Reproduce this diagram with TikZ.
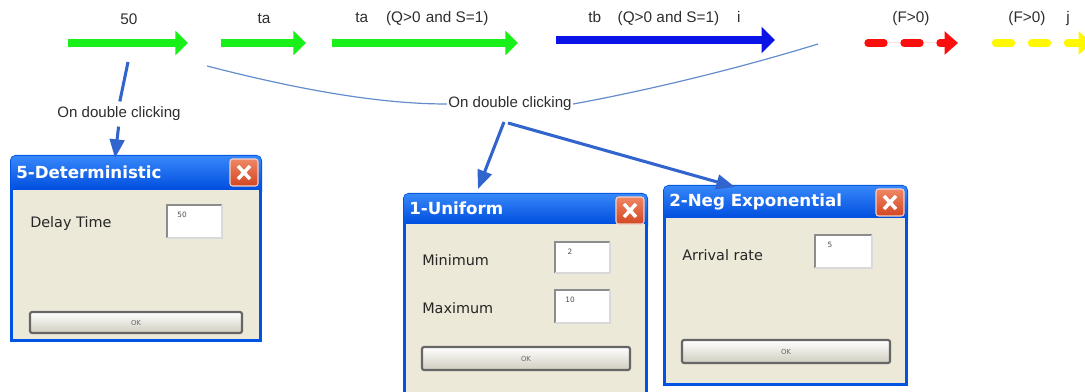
\documentclass[tikz,border=0pt]{standalone}
\usepackage{fontspec}
\setmainfont{Liberation Sans}
\newfontfamily\dlgfont{DejaVu Sans}
\usetikzlibrary{arrows.meta,calc}

\definecolor{xpgreen}{RGB}{25,240,25}
\definecolor{xpblue}{RGB}{10,20,230}
\definecolor{xpred}{RGB}{250,15,15}
\definecolor{xpyellow}{RGB}{255,248,0}
\definecolor{linkblue}{RGB}{50,100,205}
\definecolor{curveblue}{RGB}{100,140,205}
\definecolor{titletop}{RGB}{55,135,250}
\definecolor{titlebot}{RGB}{0,78,222}
\definecolor{frameblue}{RGB}{0,84,227}
\definecolor{dlgbody}{RGB}{236,233,216}
\definecolor{closered}{RGB}{210,70,35}
\definecolor{closetop}{RGB}{240,135,100}
\definecolor{labelgray}{RGB}{45,45,45}

\newcommand\XPDialog[7]{% name, x1, y1, x2, y2, title bottom, title
  \fill[frameblue, rounded corners=4pt] (#2,#3) rectangle (#4,#6+8);
  \fill[frameblue] (#2,#3+12) rectangle (#4,#5);
  \shade[top color=titletop, bottom color=titlebot, rounded corners=3pt] (#2+1,#3+1) rectangle (#4-1,#6);
  \fill[dlgbody] (#2+3,#6) rectangle (#4-3,#5-3);
  \node[titletext, anchor=west] (#1title) at (#2+6,{(#3+#6)/2}) {#7};
  \shade[top color=closetop, bottom color=closered, draw=white!75!closered, line width=0.8pt, rounded corners=2pt]
    (#4-32,#3+4) rectangle (#4-4,#3+31);
  \draw[white, line width=2.6pt] (#4-24,#3+11) -- (#4-12,#3+24) (#4-24,#3+24) -- (#4-12,#3+11);
}
\newcommand\XPBox[6]{% name, x1, y1, x2, y2, value
  \fill[white] (#2,#3) rectangle (#4,#5);
  \draw[black!45, line width=1.4pt] (#2,#5) -- (#2,#3) -- (#4,#3);
  \draw[black!15, line width=0.8pt] (#4,#3) -- (#4,#5) -- (#2,#5);
  \node[valtext] (#1) at (#2+15,#3+10) {#6};
}
\newcommand\XPButton[5]{% name, x1, y1, x2, y2
  \shade[top color=white, bottom color=black!12!dlgbody, draw=black!60, line width=1.6pt, rounded corners=1.5pt]
    (#2,#3) rectangle (#4,#5);
  \node[oktext] (#1) at ({(#2+#4)/2},{(#3+#5)/2}) {OK};
}

\begin{document}
\begin{tikzpicture}[x=0.75pt,y=-0.75pt,
  toplabel/.style={font=\fontsize{11.5}{13}\selectfont, text=labelgray, inner sep=0pt},
  clicklabel/.style={font=\fontsize{11.3}{13}\selectfont, text=labelgray, inner sep=1pt},
  titletext/.style={font=\dlgfont\bfseries\fontsize{12.5}{14}\selectfont, text=white, inner sep=0pt},
  bodytext/.style={font=\dlgfont\fontsize{10.8}{13}\selectfont, text=black!85, inner sep=0pt, anchor=west},
  valtext/.style={font=\dlgfont\fontsize{5.5}{6}\selectfont, text=black!70, inner sep=0pt},
  oktext/.style={font=\dlgfont\fontsize{5.2}{6}\selectfont, text=black!60, inner sep=0pt},
  greenarrow/.style={draw=xpgreen, line width=5.3pt, -{Triangle[length=9.5pt,width=18pt]}},
  bluearrow/.style={draw=xpblue, line width=6pt, -{Triangle[length=10pt,width=19pt]}},
  dasharrow/.style={line width=5.5pt, line cap=round, dash pattern=on 12pt off 15pt, -{Triangle[length=10pt,width=17pt]}},
  linkline/.style={draw=linkblue, line width=2.3pt},
  linkarrow/.style={linkline, -{Triangle[length=14pt,width=11pt]}},
  thincurve/.style={draw=curveblue, line width=0.9pt}
]
\useasboundingbox (0,0) rectangle (1085,392);
\clip (0,0) rectangle (1085,392);

% ---- flow arrows ----
\coordinate (g1s) at (68,43);  \coordinate (g1e) at (188,43);
\coordinate (g2s) at (221,43); \coordinate (g2e) at (306,43);
\coordinate (g3s) at (332,43); \coordinate (g3e) at (518,43);
\coordinate (b1s) at (556,40); \coordinate (b1e) at (775,40);
\coordinate (r1s) at (868,43); \coordinate (r1e) at (958,43);
\coordinate (y1s) at (995.5,43); \coordinate (y1e) at (1092,43);

\draw[greenarrow] (g1s) -- (g1e);
\draw[greenarrow] (g2s) -- (g2e);
\draw[greenarrow] (g3s) -- (g3e);
\draw[bluearrow] (b1s) -- (b1e);
\draw[dasharrow, draw=xpred, fill=xpred] (r1s) -- (r1e);
\draw[dasharrow, draw=xpyellow, fill=xpyellow] (y1s) -- (y1e);

% ---- top labels ----
\node[toplabel] (l50) at (129,19) {50};
\node[toplabel] (lta) at (264,19) {ta};
\node[toplabel, anchor=west] (lta2) at (355,19) {ta\hspace*{13.5pt}(Q>0\hspace*{4pt}and S=1)};
\node[toplabel, anchor=west] (ltb) at (588,19) {tb\hspace*{12.5pt}(Q>0 and S=1)\hspace*{13.5pt}i};
\node[toplabel] (lf1) at (911,19) {(F>0)};
\node[toplabel] (lf2) at (1027,19) {(F>0)};
\node[toplabel] (lj) at (1068,19) {j};

% ---- click labels ----
\node[clicklabel] (click1) at (119,114) {On double clicking};
\node[clicklabel] (click2) at (510,104) {On double clicking};

% ---- dialogs ----
\XPDialog{det}{10}{155}{262}{342}{190}{5-Deterministic}
\node[bodytext] (delay) at (30,224) {Delay Time};
\XPBox{detval}{167}{205}{222}{238}{50}
\XPButton{detok}{30}{312}{242}{333}

\XPDialog{uni}{403}{193}{648}{395}{224}{1-Uniform}
\node[bodytext] (minl) at (422,260) {Minimum};
\node[bodytext] (maxl) at (422,308) {Maximum};
\XPBox{minval}{555}{242}{610}{273}{2}
\XPBox{maxval}{555}{290}{610}{323}{10}
\XPButton{uniok}{422}{347}{630}{370}

\XPDialog{neg}{663}{185}{908}{386}{218}{2-Neg Exponential}
\node[bodytext] (arr) at (682,255) {Arrival rate};
\XPBox{rateval}{815}{235}{872}{268}{5}
\XPButton{negok}{682}{340}{890}{363}

% ---- connectors ----
\coordinate (a1below) at (128,62);
\coordinate (detin) at (115,158);
\draw[linkline, shorten >=3pt] (a1below) -- (click1.north);
\draw[linkarrow, shorten <=3pt] (click1.south) -- (detin);

\coordinate (src2a) at (504,122);
\coordinate (src2b) at (508,123);
\coordinate (uniin) at (478,189);
\coordinate (negin) at (735,187);
\draw[linkarrow] (src2a) -- (uniin);
\draw[linkarrow] (src2b) -- (negin);

\coordinate (cv1) at (207,66);
\coordinate (cv2) at (818,44);
\draw[thincurve] (cv1) .. controls (300,90) and (380,104) .. (click2.west);
\draw[thincurve] (click2.east) .. controls (650,90) and (740,68) .. (cv2);
\end{tikzpicture}
\end{document}
